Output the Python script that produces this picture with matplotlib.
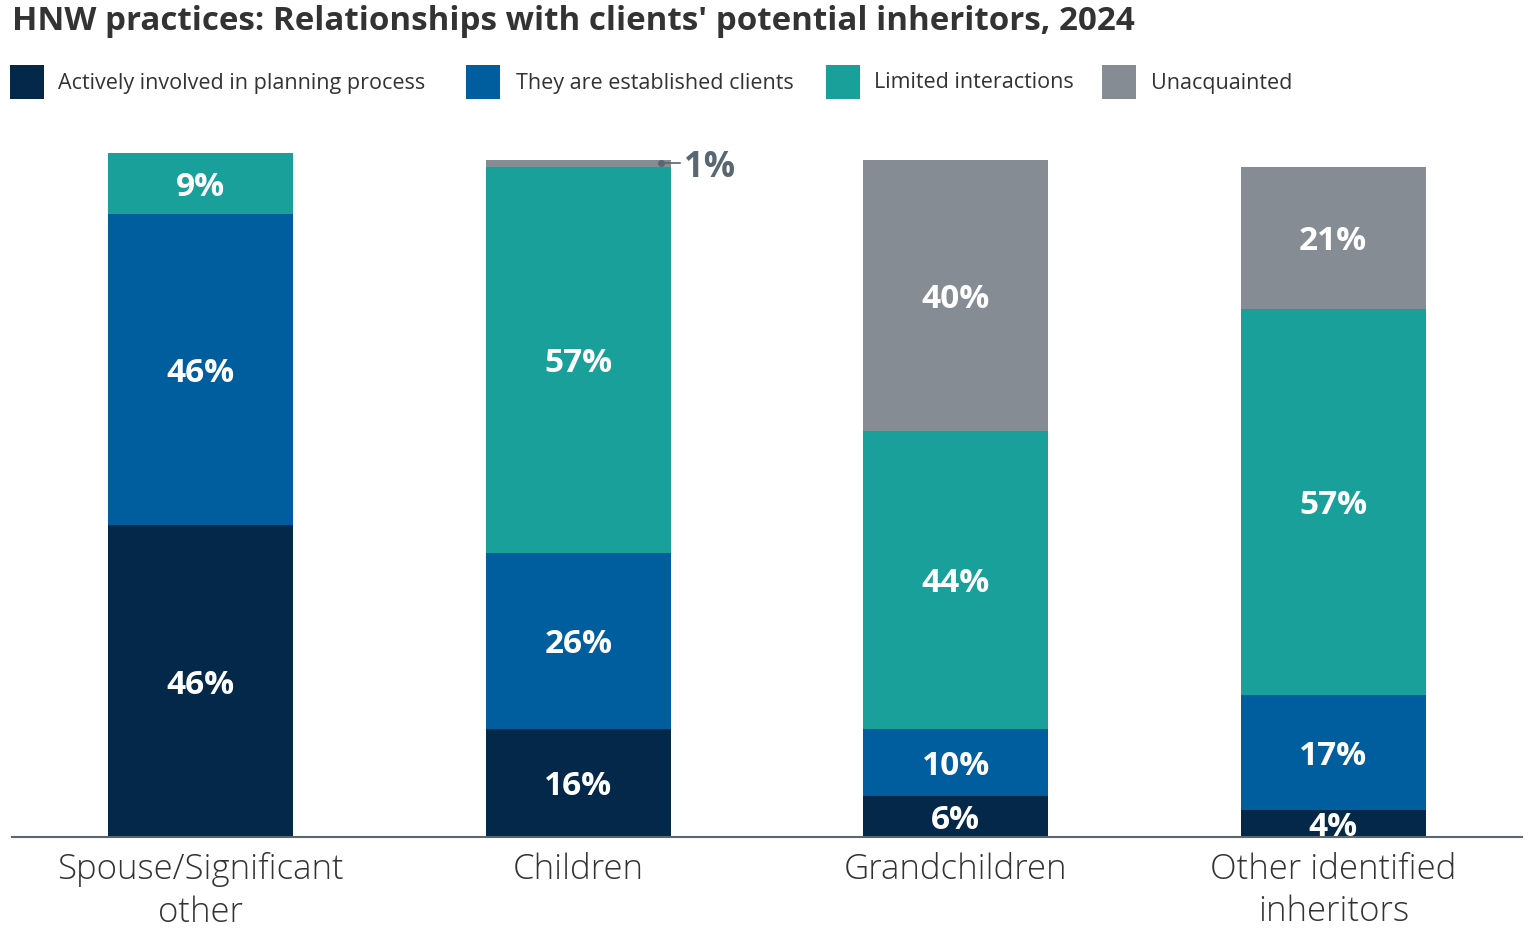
import matplotlib.pyplot as plt
from matplotlib.patches import Rectangle

categories = ['Spouse/Significant\nother', 'Children', 'Grandchildren', 'Other identified\ninheritors']
series = ['Actively involved in planning process', 'They are established clients',
          'Limited interactions', 'Unacquainted']
active = [46, 16, 6, 4]
established = [46, 26, 10, 17]
limited = [9, 57, 44, 57]
unacquainted = [0, 1, 40, 21]
values = [active, established, limited, unacquainted]
colors = ['#03284A', '#005E9E', '#1AA09A', '#858C93']

fig = plt.figure(figsize=(15.34, 9.3), dpi=100)
ax = fig.add_axes([12/1534, 0.1, 1510/1534, 0.7355])

x = range(len(categories))
bottom = [0] * len(categories)
for vals, col in zip(values, colors):
    ax.bar(x, vals, bottom=bottom, width=0.49, color=col, linewidth=0)
    for i, v in enumerate(vals):
        # labels inside segments, skip the tiny one (annotated separately)
        if v >= 3:
            ax.text(i, bottom[i] + v / 2, f'{v}%', ha='center', va='center_baseline',
                    color='white', fontsize=24, fontweight='bold', family='Open Sans')
    bottom = [b + v for b, v in zip(bottom, vals)]

# callout for the 1% slice on Children
y1 = active[1] + established[1] + limited[1] + unacquainted[1] / 2
ax.plot([1 + 0.22], [y1], marker='o', markersize=4, color='#5A6670')
ax.plot([1 + 0.22, 1 + 0.27], [y1, y1], color='#5A6670', linewidth=1.2)
ax.text(1 + 0.28, y1, '1%', ha='left', va='center_baseline', color='#5A6670',
        fontsize=25, fontweight='bold', family='Open Sans')

ax.set_xlim(-0.5, 3.5)
ax.set_ylim(0, 101)
for s in ['top', 'right', 'left']:
    ax.spines[s].set_visible(False)
ax.spines['bottom'].set_color('#5A6670')
ax.spines['bottom'].set_linewidth(1.5)
ax.set_yticks([])
ax.set_xticks(list(x))
ax.set_xticklabels(categories, fontsize=25, color='#333333', family='Open Sans',
                   fontweight='light', linespacing=1.3)
ax.tick_params(axis='x', length=0, pad=11)

fig.text(12/1534, 1 - 22/930, "HNW practices: Relationships with clients' potential inheritors, 2024",
         ha='left', va='center', fontsize=23.9, fontweight='bold', color='#333333', family='Open Sans')

# legend
sq_x = [10, 466, 826, 1102]
tx_x = [58, 516, 874, 1151]
for sx, tx, lab, col in zip(sq_x, tx_x, series, colors):
    fig.add_artist(Rectangle((sx/1534, 1 - 99/930), 34/1534, 34/930,
                             transform=fig.transFigure, color=col, linewidth=0))
    fig.text(tx/1534, 1 - 83/930, lab, ha='left', va='center', fontsize=15.5,
             color='#333333', family='Open Sans')

fig.savefig('out.png', dpi=100)
